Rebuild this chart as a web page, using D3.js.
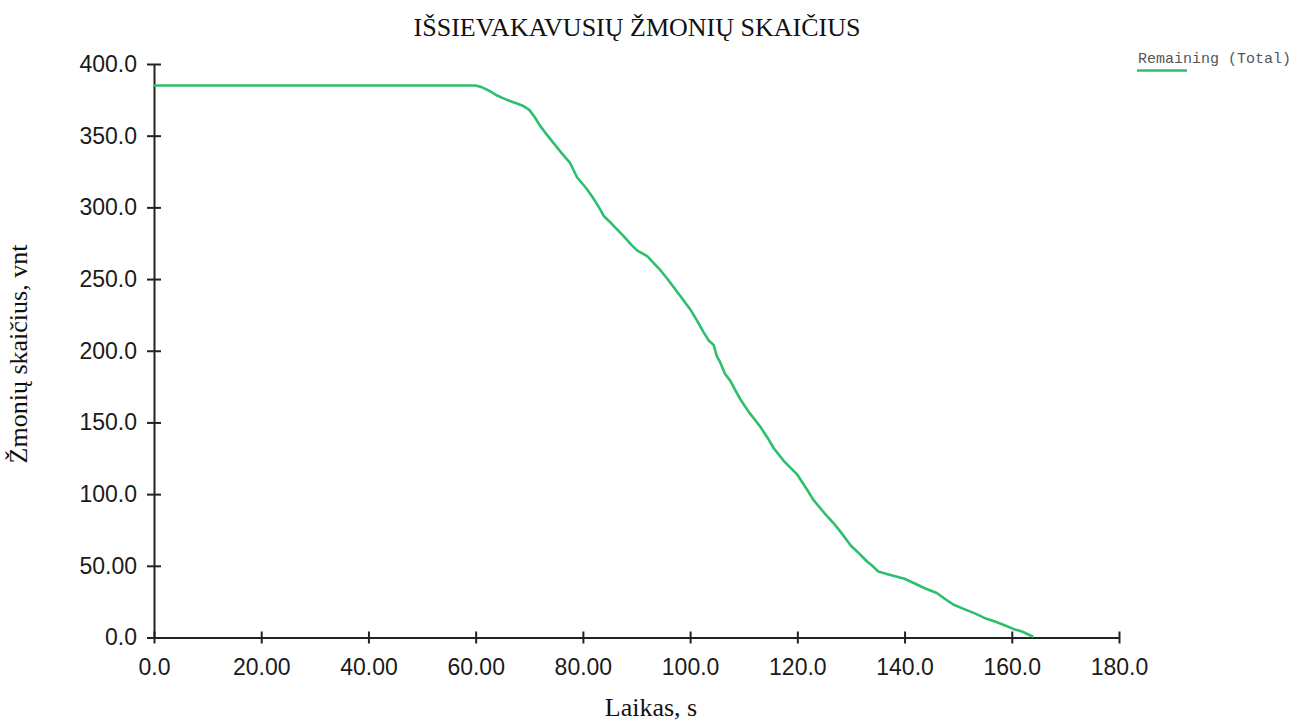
<!DOCTYPE html>
<html>
<head>
<meta charset="utf-8">
<script src="https://cdn.jsdelivr.net/npm/d3@7"></script>
<style>
  html, body { margin: 0; padding: 0; background: #fff; }
  svg { display: block; }
</style>
</head>
<body>
<svg id="chart" width="1311" height="727"></svg>
<script>
const title = "IŠSIEVAKAVUSIŲ ŽMONIŲ SKAIČIUS";
const xTitle = "Laikas, s";
const yTitle = "Žmonių skaičius, vnt";
const seriesName = "Remaining (Total)";

const xTickValues = [0, 20, 40, 60, 80, 100, 120, 140, 160, 180];
const xTickLabels = ["0.0", "20.00", "40.00", "60.00", "80.00", "100.0", "120.0", "140.0", "160.0", "180.0"];
const yTickValues = [0, 50, 100, 150, 200, 250, 300, 350, 400];
const yTickLabels = ["0.0", "50.00", "100.0", "150.0", "200.0", "250.0", "300.0", "350.0", "400.0"];

const timeValues = [0, 60, 61, 62.7, 64, 65.2, 66.5, 67.7, 69, 70, 71, 72, 73, 74.5, 76, 77.6, 78.9, 80.7, 82, 83, 83.9, 85, 86, 87.6, 89, 90.1, 92, 93, 94.5, 96, 98.2, 100, 101.3, 102.5, 103.5, 104.4, 105, 105.6, 106.5, 107.5, 108.5, 109.4, 111, 113.1, 114.5, 115.6, 117.5, 119.9, 121.5, 123, 125, 126.7, 128, 130, 131.7, 133, 134, 135.1, 137, 140, 142.3, 144, 146, 147.5, 149.1, 151, 153, 155.3, 157, 159, 160.3, 162, 164];
const remainingValues = [385, 385, 384, 381, 378, 376, 374, 372.5, 370.5, 368, 363, 357, 352, 345, 338, 331, 321, 313, 306, 300, 294, 290, 286, 280, 274, 270, 266, 262, 256, 249, 238, 229, 221, 213, 207, 204, 196, 192, 184, 179, 172, 166, 157, 147, 139, 132, 123, 114, 105, 96, 87, 80, 74, 64, 58, 53, 50, 46, 44, 41, 37, 34, 31, 27, 23, 20, 17, 13, 11, 8, 6, 4, 0.5];

const svg = d3.select("#chart");
const plotLeft = 154, plotRight = 1119, plotTop = 64, plotBottom = 637.5;

const x = d3.scaleLinear().domain([0, 180]).range([plotLeft, plotRight]);
const y = d3.scaleLinear().domain([0, 400]).range([plotBottom, plotTop]);

// Title
svg.append("text")
  .attr("x", 637).attr("y", 36)
  .attr("text-anchor", "middle")
  .attr("font-family", "'Liberation Serif', 'Times New Roman', serif")
  .attr("font-size", 26).attr("fill", "#111")
  .text(title);

// X axis
const xAxis = d3.axisBottom(x)
  .tickValues(xTickValues)
  .tickFormat((d, i) => xTickLabels[i])
  .tickSizeInner(6).tickSizeOuter(0).tickPadding(15);
const gx = svg.append("g").attr("transform", `translate(0,${plotBottom})`).call(xAxis);
gx.select(".domain").attr("stroke", "#222").attr("stroke-width", 2);
gx.selectAll(".tick line").attr("y1", -6).attr("y2", 6).attr("stroke", "#222").attr("stroke-width", 2);
gx.selectAll(".tick text")
  .attr("font-family", "'Liberation Sans', Arial, sans-serif")
  .attr("font-size", 23).attr("fill", "#1a1a1a");

// Y axis
const yAxis = d3.axisLeft(y)
  .tickValues(yTickValues)
  .tickFormat((d, i) => yTickLabels[i])
  .tickSizeInner(7).tickSizeOuter(0).tickPadding(10);
const gy = svg.append("g").attr("transform", `translate(${plotLeft},0)`).call(yAxis);
gy.select(".domain").attr("stroke", "#222").attr("stroke-width", 2);
gy.selectAll(".tick line").attr("x1", -7).attr("x2", 7).attr("stroke", "#222").attr("stroke-width", 2);
gy.selectAll(".tick text")
  .attr("font-family", "'Liberation Sans', Arial, sans-serif")
  .attr("font-size", 23).attr("fill", "#1a1a1a");

// Axis titles
svg.append("text")
  .attr("x", 651).attr("y", 716)
  .attr("text-anchor", "middle")
  .attr("font-family", "'Liberation Serif', 'Times New Roman', serif")
  .attr("font-size", 26).attr("fill", "#111")
  .text(xTitle);
svg.append("text")
  .attr("transform", "translate(27,354) rotate(-90)")
  .attr("text-anchor", "middle")
  .attr("font-family", "'Liberation Serif', 'Times New Roman', serif")
  .attr("font-size", 26).attr("fill", "#111")
  .text(yTitle);

// Line
const data = timeValues.map((t, i) => ({t, v: remainingValues[i]}));
const line = d3.line().x(d => x(d.t)).y(d => y(d.v));
svg.append("path")
  .datum(data)
  .attr("d", line)
  .attr("fill", "none")
  .attr("stroke", "#2dbf6e")
  .attr("stroke-width", 2.6)
  .attr("stroke-linejoin", "round");

// Legend
svg.append("text")
  .attr("x", 1138).attr("y", 63)
  .attr("font-family", "'Liberation Mono', 'Courier New', monospace")
  .attr("font-size", 15).attr("fill", "#555")
  .text(seriesName);
svg.append("line")
  .attr("x1", 1137).attr("x2", 1187).attr("y1", 70.5).attr("y2", 70.5)
  .attr("stroke", "#2dbf6e").attr("stroke-width", 2.6);
</script>
</body>
</html>
